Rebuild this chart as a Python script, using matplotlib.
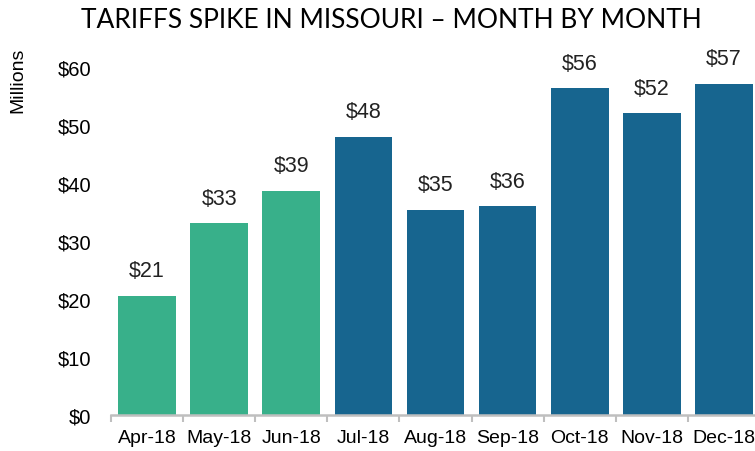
import numpy as np
import matplotlib
matplotlib.use("Agg")
import matplotlib.pyplot as plt
from matplotlib.ticker import FixedLocator

months = ['Apr-18', 'May-18', 'Jun-18', 'Jul-18', 'Aug-18', 'Sep-18', 'Oct-18', 'Nov-18', 'Dec-18']
tariffs = [20.6, 33.1, 38.7, 48.0, 35.4, 36.0, 56.3, 52.0, 57.1]
before_count = 3  # first three months drawn in green
yticks = [0, 10, 20, 30, 40, 50, 60]

green = '#38B08A'
blue = '#17658F'
grey = '#BFBFBF'

plt.rcParams['font.family'] = ['Liberation Sans', 'DejaVu Sans']

fig = plt.figure(figsize=(7.55, 4.52), dpi=100)
ax = fig.add_axes([111 / 755, 36 / 452, 644 / 755, 348 / 452])

x = np.arange(len(months))
colors = [green if i < before_count else blue for i in x]
bars = ax.bar(x, tariffs, width=0.8, color=colors)

for b, v in zip(bars, tariffs):
    ax.text(b.get_x() + b.get_width() / 2, v + 2.5, '$%d' % round(v),
            ha='center', va='bottom', fontsize=15.5, color='#222222')

ax.set_xlim(-0.5, 8.43)
ax.set_ylim(0, 60)
ax.set_xticks(x)
ax.set_xticklabels(months, fontsize=14)
ax.xaxis.set_minor_locator(FixedLocator(np.arange(-0.5, len(months), 1.0)))
ax.tick_params(axis='x', which='major', length=0, pad=10)
ax.tick_params(axis='x', which='minor', length=5, width=1.5, color=grey, direction='out')
ax.set_yticks(yticks)
ax.set_yticklabels(['$%d' % t for t in yticks], fontsize=14.5)
ax.tick_params(axis='y', length=0, pad=14)

for s in ['top', 'right', 'left']:
    ax.spines[s].set_visible(False)
ax.spines['bottom'].set_color(grey)
ax.spines['bottom'].set_linewidth(1.8)

fig.text(391 / 755, 1 - 20 / 452, 'TARIFFS SPIKE IN MISSOURI \u2013 MONTH BY MONTH',
         ha='center', va='center', fontsize=19, family=['Lato', 'DejaVu Sans'])
fig.text(18 / 755, 1 - 80 / 452, 'Millions', rotation=90, ha='center', va='center', fontsize=14)

fig.savefig('out.png', dpi=100)
